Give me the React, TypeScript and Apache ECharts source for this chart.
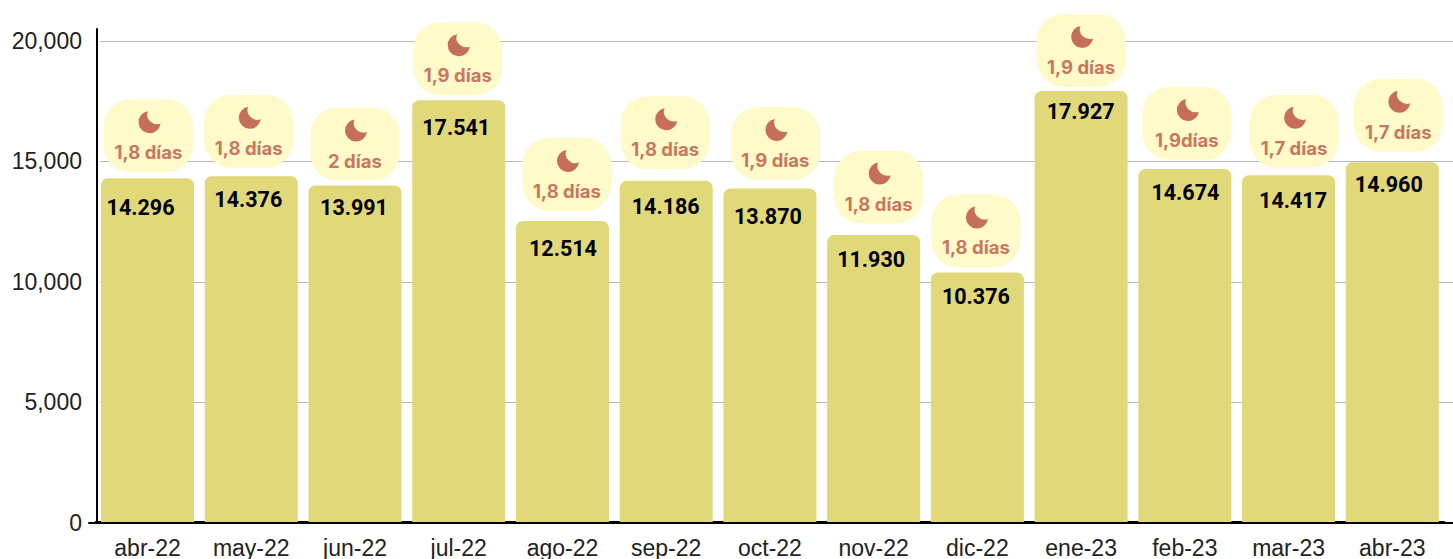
import React, { useEffect, useRef } from "react";
import * as echarts from "echarts";

const categories = ["abr-22","may-22","jun-22","jul-22","ago-22","sep-22","oct-22","nov-22","dic-22","ene-23","feb-23","mar-23","abr-23"];
const visits = [14296,14376,13991,17541,12514,14186,13870,11930,10376,17927,14674,14417,14960];
const valueLabels = ["14.296","14.376","13.991","17.541","12.514","14.186","13.870","11.930","10.376","17.927","14.674","14.417","14.960"];
const stayLabels = ["1,8 días","1,8 días","2 días","1,9 días","1,8 días","1,8 días","1,9 días","1,8 días","1,8 días","1,9 días","1,9días","1,7 días","1,7 días"];

// hand-placed overlay nudges (px), relative to the bar top-centre
const badgeDx = [1,-2.5,0,-1,4.5,-1,5.5,5,-1.5,0,2,5.5,6];
const badgeGap = [6,8.5,5,5,10,11.5,8.5,11.5,5,4,9,7.5,10.5];
const labelDx = [-7,-3,-1,-2.5,0.5,-0.5,-2,-2.5,-1.5,-0.5,0.5,4.5,-3.5];
const labelDy = [29,23.5,21.5,27,27,25.5,28,24.5,24.5,21,23,25,22];

const MOON = "M9.5 0 A11 11 0 1 0 22 12.5 A10 9.5 0 0 1 9.5 0 Z";
const TOP = 29;
const H = 493.5;

export default function App() {
  const ref = useRef<HTMLDivElement>(null);
  useEffect(() => {
    const chart = echarts.init(ref.current!, undefined, { renderer: "svg" });
    const axisStyle = { lineStyle: { color: "#000", width: 2 } };
    chart.setOption({
      animation: false,
      backgroundColor: "#fff",
      grid: [
        { left: 100, right: 0, top: TOP, height: H },
        { left: 95.67, width: 1348.5, top: TOP, height: H },
        { left: 89, width: 20, top: TOP, height: H },
      ],
      xAxis: [
        { gridIndex: 0, type: "category", data: ["a"], axisLine: axisStyle, axisTick: { show: false }, axisLabel: { show: false } },
        {
          gridIndex: 1, type: "category", data: categories, axisLine: axisStyle, axisTick: { show: false },
          axisLabel: { interval: 0, margin: 14, fontFamily: "Liberation Sans", fontSize: 23, color: "#222" },
        },
        { gridIndex: 2, type: "category", data: ["a"], axisLine: axisStyle, axisTick: { show: false }, axisLabel: { show: false } },
      ],
      yAxis: [
        {
          gridIndex: 0, type: "value", min: 0, max: 20500, interval: 5000, offset: 3,
          axisLine: { show: true, ...axisStyle },
          axisTick: { show: false },
          axisLabel: {
            showMaxLabel: false, margin: 15, fontFamily: "Liberation Sans", fontSize: 23, color: "#222",
            formatter: (v: number) => v.toLocaleString("en-US"),
          },
          splitLine: { show: true, showMaxLine: false, lineStyle: { color: "#b8b8b8", width: 1 } },
        },
        { gridIndex: 1, type: "value", min: 0, max: 20500, interval: 5000, show: false, splitLine: { show: false } },
        { gridIndex: 2, type: "value", min: 0, max: 20500, interval: 5000, show: false, splitLine: { show: false } },
      ],
      series: [
        {
          type: "bar", xAxisIndex: 1, yAxisIndex: 1, data: visits, barWidth: 93,
          itemStyle: { color: "#e1d879", borderRadius: [7, 7, 0, 0] },
          z: 2,
        },
        {
          type: "custom", xAxisIndex: 1, yAxisIndex: 1, data: visits.map((v, i) => [i, v]), z: 3, clip: false,
          renderItem: (params: any, api: any) => {
            const i = params.dataIndex;
            const [cx, top] = api.coord([api.value(0), api.value(1)]);
            const bx = cx + badgeDx[i];
            const bBottom = top - badgeGap[i];
            const bTop = bBottom - 73;
            return {
              type: "group",
              children: [
                { type: "rect", shape: { x: bx - 44.5, y: bTop, width: 89, height: 73, r: 27 }, style: { fill: "#fffac9" } },
                { type: "path", shape: { pathData: MOON, x: bx - 10, y: bTop + 12, width: 22, height: 22 }, style: { fill: "#c56f58" } },
                { type: "text", x: bx, y: bTop + 53, style: { text: stayLabels[i], fontFamily: "Inter", fontWeight: 700, fontSize: 18.5, fill: "#c9775f", align: "center", verticalAlign: "middle" } },
                { type: "text", x: cx + labelDx[i], y: top + labelDy[i], style: { text: valueLabels[i], fontFamily: "Roboto", fontWeight: 700, fontSize: 21.5, fill: "#000", align: "center", verticalAlign: "middle" } },
              ],
            };
          },
        },
      ],
    });
    return () => chart.dispose();
  }, []);
  return <div ref={ref} style={{ position: "absolute", left: 0, top: 0, width: 1453, height: 559 }} />;
}
